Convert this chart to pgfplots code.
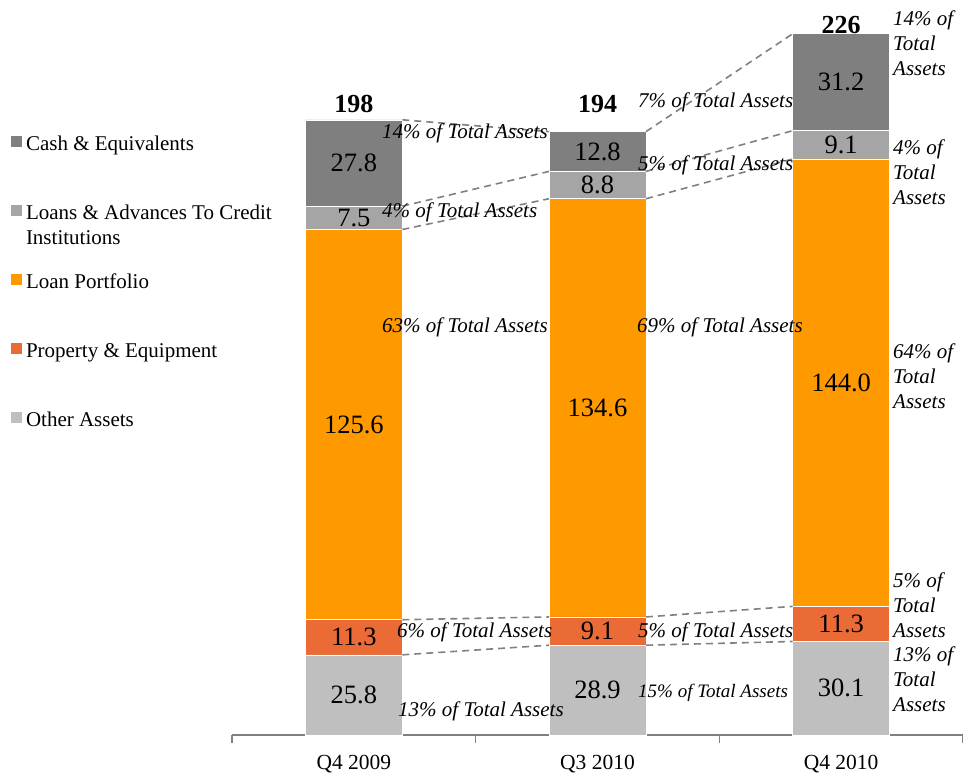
\documentclass[border=0pt]{standalone}
\usepackage{pgfplots}
\pgfplotsset{compat=1.18}
\usepackage{pgfplotstable}
\usepackage{fontspec}
\setmainfont{Liberation Serif}
\definecolor{cCash}{HTML}{7F7F7F}
\definecolor{cCred}{HTML}{A5A5A5}
\definecolor{cLoan}{HTML}{FF9900}
\definecolor{cProp}{HTML}{EA6B35}
\definecolor{cOther}{HTML}{BFBFBF}
\definecolor{cLine}{HTML}{808080}

\pgfplotstableread{
x other prop loan cred cash
0 25.8 11.3 125.6 7.5 27.8
1 28.9 9.1 134.6 8.8 12.8
2 30.1 11.3 144.0 9.1 31.2
}\datatab

\pgfplotstableread{
x y l
0 12.9 25.8
0 31.45 11.3
0 99.9 125.6
0 166.45 7.5
0 184.1 27.8
1 14.45 28.9
1 33.45 9.1
1 105.3 134.6
1 177.0 8.8
1 187.8 12.8
2 15.05 30.1
2 35.75 11.3
2 113.4 144.0
2 189.95 9.1
2 210.1 31.2
}\labtab

\pgfplotstableread{
x y l
0 200.2 198
1 200.2 194
2 225.9 226
}\tottab

\newcommand{\ann}{\fontsize{21}{25}\selectfont\itshape}

\begin{document}
\begin{tikzpicture}[x=1pt,y=1pt]
\useasboundingbox (0,0) rectangle (963,775);
\pgfplotsset{base/.style={scale only axis, width=731pt, height=714.6pt,
  at={(232pt,40pt)}, anchor=south west, xmin=-0.5, xmax=2.5, ymin=0, ymax=230,
  enlargelimits=false, clip=false}}
\begin{axis}[base, ybar stacked, bar width=97pt,
  axis y line=none, axis x line*=bottom,
  x axis line style={draw=cLine, line width=1.4pt},
  xtick={-0.5,0.5,1.5,2.5}, xticklabels={,,,},
  tick align=outside, major tick length=8pt,
  xtick style={draw=cLine, line width=1.4pt},
  legend style={at={(-0.30233,0.8396)}, anchor=north west, draw=none, fill=none,
    inner sep=0pt, outer sep=0pt, row sep=49pt, column sep=4pt,
    cells={anchor=west},
    nodes={inner sep=0pt, text height=15pt, text depth=5pt, font=\fontsize{21}{25}\selectfont}},
  legend image code/.code={\path[#1, draw=none] (0pt,-1.5pt) rectangle (11pt,9.5pt);},
  reverse legend,
]
\addplot[fill=cOther, draw=white, line width=0.6pt] table[x=x,y=other]{\datatab};
\addlegendentry{Other Assets}
\addplot[fill=cProp, draw=white, line width=0.6pt] table[x=x,y=prop]{\datatab};
\addlegendentry{Property \& Equipment}
\addplot[fill=cLoan, draw=white, line width=0.6pt] table[x=x,y=loan]{\datatab};
\addlegendentry{Loan Portfolio}
\addplot[fill=cCred, draw=white, line width=0.6pt] table[x=x,y=cred]{\datatab};
\addlegendentry{\parbox[t]{270pt}{Loans \& Advances To Credit\\Institutions}}
\addplot[fill=cCash, draw=white, line width=0.6pt] table[x=x,y=cash]{\datatab};
\addlegendentry{Cash \& Equivalents}
\end{axis}

\begin{axis}[base,
  axis y line=none, axis x line*=bottom,
  x axis line style={draw=none},
  xtick={0,1,2}, xticklabels={Q4 2009,Q3 2010,Q4 2010},
  major tick length=0pt, xtick style={draw=none},
  xticklabel style={font=\fontsize{21.5}{25}\selectfont, anchor=base, yshift=-35pt},
]
\pgfplotsset{dl/.style={cLine, line width=1.6pt, dash pattern=on 7pt off 5pt, mark=none}}
\addplot[dl] coordinates {(0.199,198.0) (0.801,194.2)};
\addplot[dl] coordinates {(0.199,170.2) (0.801,181.4)};
\addplot[dl] coordinates {(0.199,162.7) (0.801,172.6)};
\addplot[dl] coordinates {(0.199,37.1) (0.801,38.0)};
\addplot[dl] coordinates {(0.199,25.8) (0.801,28.9)};
\addplot[dl] coordinates {(1.199,194.2) (1.801,225.7)};
\addplot[dl] coordinates {(1.199,181.4) (1.801,194.5)};
\addplot[dl] coordinates {(1.199,172.6) (1.801,185.4)};
\addplot[dl] coordinates {(1.199,38.0) (1.801,41.4)};
\addplot[dl] coordinates {(1.199,28.9) (1.801,30.1)};

\addplot[draw=none, mark=none, nodes near coords, point meta=explicit symbolic,
  nodes near coords align={center},
  every node near coord/.append style={font=\fontsize{26.5}{30}\selectfont, text=black}]
  table[x=x,y=y,meta=l]{\labtab};
\addplot[draw=none, mark=none, nodes near coords, point meta=explicit symbolic,
  nodes near coords align={center},
  every node near coord/.append style={font=\fontsize{26}{30}\selectfont\bfseries, text=black, anchor=base}]
  table[x=x,y=y,meta=l]{\tottab};

\begin{scope}[every node/.style={inner sep=0pt, anchor=base west, font=\ann}]
\node at (axis cs:0.1156,192.1) {14\% of Total Assets};
\node at (axis cs:0.1156,166.4) {4\% of Total Assets};
\node at (axis cs:0.1156,129.7) {63\% of Total Assets};
\node at (axis cs:0.1771,31.5) {6\% of Total Assets};
\node at (axis cs:0.1813,5.8) {13\% of Total Assets};
\node at (axis cs:1.1662,202.1) {7\% of Total Assets};
\node at (axis cs:1.1662,181.8) {5\% of Total Assets};
\node at (axis cs:1.1621,129.7) {69\% of Total Assets};
\node at (axis cs:1.1662,31.5) {5\% of Total Assets};
\node[font=\fontsize{19}{23}\selectfont\itshape] at (axis cs:1.1662,12.2) {15\% of Total Assets};
\node at (axis cs:2.2127,228.5) {\parbox[t]{70pt}{\raggedright 14\% of\\Total\\Assets}};
\node at (axis cs:2.2127,186.7) {\parbox[t]{70pt}{\raggedright 4\% of\\Total\\Assets}};
\node at (axis cs:2.2127,121.3) {\parbox[t]{70pt}{\raggedright 64\% of\\Total\\Assets}};
\node at (axis cs:2.2127,47.6) {\parbox[t]{70pt}{\raggedright 5\% of\\Total\\Assets}};
\node at (axis cs:2.2127,23.5) {\parbox[t]{70pt}{\raggedright 13\% of\\Total\\Assets}};
\end{scope}
\end{axis}
\end{tikzpicture}
\end{document}
